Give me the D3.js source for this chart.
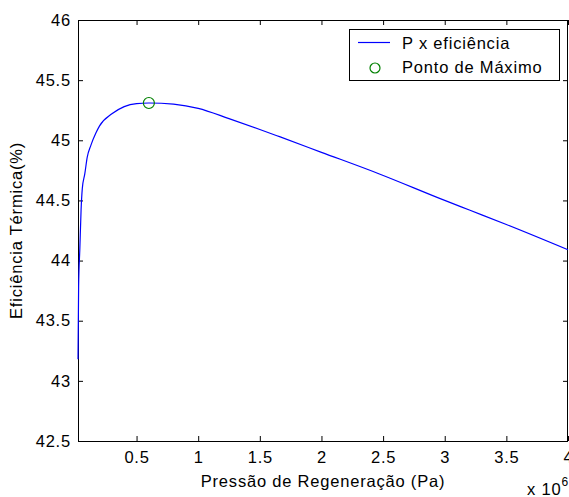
<!DOCTYPE html>
<html>
<head>
<meta charset="utf-8">
<script src="https://cdn.jsdelivr.net/npm/d3@7"></script>
<style>
  body { margin: 0; background: #fff; }
  text { font-family: "Liberation Sans", Arial, sans-serif; font-size: 16.5px; letter-spacing: 0.8px; fill: #000; }
</style>
</head>
<body>
<div id="chart"></div>
<script>
// pressure (x 10^6 Pa) and thermal efficiency (%)
var pressure = [0.025, 0.03, 0.04, 0.05, 0.06, 0.08, 0.1, 0.13, 0.17, 0.2, 0.3, 0.4, 0.5, 0.6,
  0.8, 1.0, 1.25, 1.5, 1.66, 2.0, 2.47, 3.0, 3.2, 3.5, 4.0];
var efficiency = [43.18, 43.78, 44.1, 44.42, 44.6, 44.72, 44.86, 44.96, 45.06, 45.12, 45.22, 45.28, 45.305, 45.31,
  45.3, 45.265, 45.18, 45.09, 45.03, 44.9, 44.72, 44.5, 44.42, 44.3, 44.09];

// the maximum point
var maxPoint = [0.6, 45.31];

var xTicks = [0.5, 1, 1.5, 2, 2.5, 3, 3.5, 4];
var xTickLabels = ["0.5", "1", "1.5", "2", "2.5", "3", "3.5", "4"];
var yTicks = [42.5, 43, 43.5, 44, 44.5, 45, 45.5, 46];
var yTickLabels = ["42.5", "43", "43.5", "44", "44.5", "45", "45.5", "46"];
var seriesNames = ["P x efici\u00eancia", "Ponto de M\u00e1ximo"];

// svg size and plot box
var svgWidth = 569;
var svgHeight = 497;
var plotLeft = 78, plotRight = 568, plotTop = 20, plotBottom = 441;

var svg = d3.select("#chart")
  .append("svg")
  .attr("width", svgWidth)
  .attr("height", svgHeight);

var xScale = d3.scaleLinear().domain([0.025, 4]).range([plotLeft, plotRight]);
var yScale = d3.scaleLinear().domain([42.5, 46]).range([plotBottom, plotTop]);

// axes with inward ticks
var bottomAxis = d3.axisBottom(xScale).tickValues(xTicks)
  .tickFormat((d, i) => xTickLabels[i]).tickSizeInner(-5).tickSizeOuter(0).tickPadding(10);
var topAxis = d3.axisTop(xScale).tickValues(xTicks).tickSizeInner(-5).tickSizeOuter(0).tickFormat("");
var leftAxis = d3.axisLeft(yScale).tickValues(yTicks)
  .tickFormat((d, i) => yTickLabels[i]).tickSizeInner(-5).tickSizeOuter(0).tickPadding(7);
var rightAxis = d3.axisRight(yScale).tickValues(yTicks).tickSizeInner(-5).tickSizeOuter(0).tickFormat("");

function styleAxis(g) {
  g.select(".domain").remove();
  g.selectAll("line").attr("stroke", "#000");
  g.selectAll("text").attr("font-family", null).attr("font-size", null);
}

svg.append("g").attr("transform", `translate(0, ${plotBottom})`).call(bottomAxis).call(styleAxis);
svg.append("g").attr("transform", `translate(0, ${plotTop})`).call(topAxis).call(styleAxis);
svg.append("g").attr("transform", `translate(${plotLeft}, 0)`).call(leftAxis).call(styleAxis);
svg.append("g").attr("transform", `translate(${plotRight}, 0)`).call(rightAxis).call(styleAxis);

// box around the plot
svg.append("rect")
  .attr("x", plotLeft + 0.5)
  .attr("y", plotTop + 0.5)
  .attr("width", plotRight - plotLeft - 1)
  .attr("height", plotBottom - plotTop)
  .attr("fill", "none")
  .attr("stroke", "#000");

// the curve
var data = pressure.map((p, i) => [p, efficiency[i]]);
var line = d3.line()
  .x(d => xScale(d[0]))
  .y(d => yScale(d[1]))
  .curve(d3.curveMonotoneX);

svg.append("path")
  .datum(data)
  .attr("d", line)
  .attr("fill", "none")
  .attr("stroke", "#0000ff")
  .attr("stroke-width", 1.2);

svg.append("circle")
  .attr("cx", xScale(maxPoint[0]))
  .attr("cy", yScale(maxPoint[1]))
  .attr("r", 5.5)
  .attr("fill", "none")
  .attr("stroke", "#008000")
  .attr("stroke-width", 1.2);

// legend
var legend = svg.append("g");
legend.append("rect")
  .attr("x", 349.5).attr("y", 29.5)
  .attr("width", 210).attr("height", 51)
  .attr("fill", "#fff").attr("stroke", "#000");
legend.append("line")
  .attr("x1", 358).attr("x2", 390).attr("y1", 42.5).attr("y2", 42.5)
  .attr("stroke", "#0000ff").attr("stroke-width", 1.2);
legend.append("circle")
  .attr("cx", 375).attr("cy", 68).attr("r", 5)
  .attr("fill", "none").attr("stroke", "#008000").attr("stroke-width", 1.2);
legend.append("text").attr("x", 402).attr("y", 49).text(seriesNames[0]);
legend.append("text").attr("x", 402).attr("y", 73).text(seriesNames[1]);

// axis labels
svg.append("text")
  .attr("x", (plotLeft + plotRight) / 2)
  .attr("y", 487)
  .style("text-anchor", "middle")
  .text("Press\u00e3o de Regenera\u00e7\u00e3o (Pa)");

svg.append("text")
  .attr("transform", "rotate(-90)")
  .attr("x", -(plotTop + plotBottom) / 2)
  .attr("y", 22)
  .style("text-anchor", "middle")
  .text("Efici\u00eancia T\u00e9rmica(%)");

// exponent
var expo = svg.append("text").attr("x", 527).attr("y", 495);
expo.append("tspan").text("x 10");
expo.append("tspan").attr("dy", -9).style("font-size", "12px").text("6");
</script>
</body>
</html>
